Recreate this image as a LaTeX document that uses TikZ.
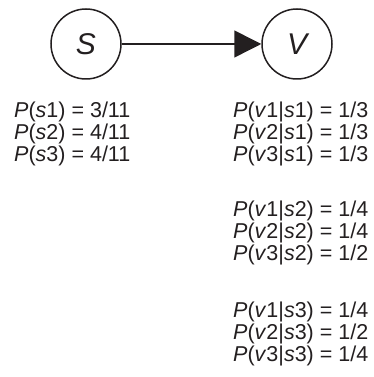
\documentclass[tikz,border=0pt]{standalone}
\usepackage{fontspec}
\setmainfont{Liberation Sans}
\usetikzlibrary{arrows.meta, positioning, calc}
\definecolor{inkline}{HTML}{231F20}
\newcommand{\varnode}[3]{%
  \node[draw=inkline, line width=1.5pt, circle, fill=white,
        minimum size=70pt, inner sep=0pt,
        font=\fontsize{30}{32}\selectfont\itshape] (#1) at (#2,333) {#3};}
\newcommand{\pr}[3]{\textit{P}(\textit{v}#1|\textit{s}#2) = #3}

\begin{document}
\begin{tikzpicture}[x=1pt, y=1pt, font=\fontsize{21.5}{22}\selectfont,
    every node/.append style={text=inkline},
    probline/.style={anchor=base west, inner sep=0pt}]
      \useasboundingbox (0,0) rectangle (374,377);
      \varnode{s}{86}{S}
      \varnode{v}{297}{V}
      \draw[-{Triangle[length=27pt, width=27pt]}, inkline, line width=1.5pt] (s) -- (v);
      % prior on S
      \foreach \t [count=\i] in {{3/11}, {4/11}, {4/11}}
        \node[probline] (prior\i) at (14,259-22*\i+22) {\textit{P}(\textit{s}\i) = \t};
      % V given S, one block for each value of S
      \foreach \t [count=\i] in {{1/3}, {1/3}, {1/3}}
        \node[probline] (cpta\i) at (233,259-22*\i+22) {\pr{\i}{1}{\t}};
      \foreach \t [count=\i] in {{1/4}, {1/4}, {1/2}}
        \node[probline] (cptb\i) at (233,160-22*\i+22) {\pr{\i}{2}{\t}};
      \foreach \t [count=\i] in {{1/4}, {1/2}, {1/4}}
        \node[probline] (cptc\i) at (233,59-22*\i+22) {\pr{\i}{3}{\t}};
    \end{tikzpicture}
\end{document}
